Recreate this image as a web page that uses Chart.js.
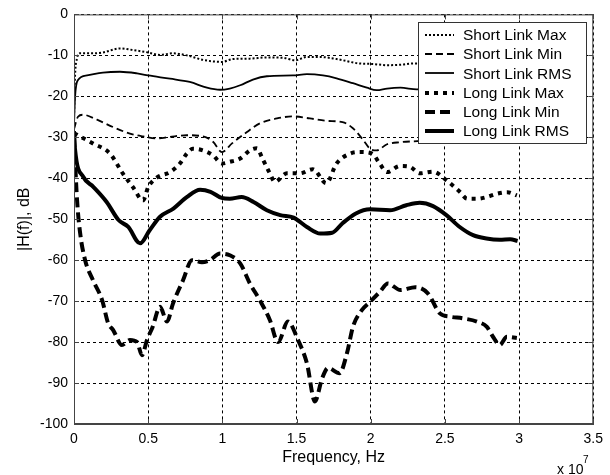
<!DOCTYPE html>
<html><head><meta charset="utf-8">
<script src="https://cdn.jsdelivr.net/npm/chart.js@4"></script>
<style>html,body{margin:0;padding:0;background:#fff;}#wrap{width:610px;height:475px;}</style>
</head><body><div id="wrap"><canvas id="c" width="610" height="475"></canvas></div>
<script>
// Frequencies are in units of 1e7 Hz (axis exponent "x 10^7")
const seriesNames = ["Short Link Max","Short Link Min","Short Link RMS","Long Link Max","Long Link Min","Long Link RMS"];
const xTickValues = [0,0.5,1,1.5,2,2.5,3,3.5];
const yTickValues = [0,-10,-20,-30,-40,-50,-60,-70,-80,-90,-100];

const shortMaxF  = [0,0.007,0.02,0.04,0.128,0.195,0.31,0.398,0.5,0.58,0.667,0.76,0.87,0.997,1.07,1.186,1.30,1.41,1.49,1.57,1.66,1.77,1.93,2.01,2.11,2.2,2.28,2.5,2.75,3.0];
const shortMaxDb = [-25,-15,-10.8,-9.5,-9.5,-9.3,-8.3,-8.7,-9.3,-9.9,-9.5,-10,-11.1,-11.6,-10.9,-10.8,-10.5,-10.6,-11.2,-10.4,-10.4,-10.9,-12,-12.1,-12.4,-12.3,-12,-12.2,-12.5,-12.3];

const shortMinF  = [0,0.027,0.06,0.155,0.263,0.377,0.465,0.56,0.647,0.76,0.87,0.937,0.997,1.065,1.166,1.253,1.368,1.476,1.59,1.705,1.81,1.88,1.95,1.995,2.04,2.11,2.2,2.28,2.45,2.7,3.0];
const shortMinDb = [-28,-25,-24.5,-25.7,-27.5,-29.1,-29.8,-30.3,-29.9,-29.5,-29.8,-31.1,-33.6,-31.5,-28.7,-26.6,-25.4,-24.9,-25.4,-26,-26.3,-27.8,-30.7,-32.8,-33.2,-31.7,-31.2,-31,-30.8,-30.8,-30.8];

const shortRmsF  = [0,0.007,0.027,0.088,0.195,0.31,0.425,0.5,0.647,0.78,0.896,0.984,1.05,1.12,1.206,1.30,1.476,1.57,1.678,1.77,1.88,1.974,2.04,2.11,2.2,2.31,2.5,2.75,3.0];
const shortRmsDb = [-27,-20.2,-16,-14.9,-14.2,-14,-14.4,-14.9,-15.7,-16.5,-17.9,-18.4,-18.1,-17.3,-15.9,-15.1,-14.9,-14.6,-14.9,-15.6,-16.8,-17.9,-18.5,-18.1,-17.9,-18.3,-18,-18.2,-18];

const longMaxF  = [0,0.128,0.243,0.33,0.398,0.465,0.5,0.56,0.647,0.714,0.76,0.80,0.87,0.937,0.997,1.05,1.12,1.186,1.233,1.27,1.32,1.354,1.435,1.523,1.61,1.70,1.77,1.86,1.93,2.01,2.06,2.11,2.197,2.264,2.33,2.42,2.51,2.6,2.65,2.72,2.78,2.85,2.92,2.985];
const longMaxDb = [-29,-31.5,-34,-38.9,-42.2,-45.4,-42.2,-39.8,-38.5,-36.4,-34,-32.8,-33.2,-34.4,-36.4,-36,-35.2,-33.2,-32.7,-35.2,-38.8,-40.9,-38.8,-38.8,-37.8,-41.2,-36.4,-34,-33.6,-34,-36.4,-38.5,-37,-37.2,-38.8,-38.4,-40.5,-43.3,-45,-45,-44.6,-43.8,-43.4,-44.2];

const longMinF  = [0,0.02,0.04,0.075,0.128,0.19,0.23,0.263,0.323,0.377,0.425,0.458,0.492,0.53,0.58,0.627,0.667,0.735,0.795,0.862,0.916,0.984,1.05,1.12,1.186,1.253,1.32,1.375,1.442,1.51,1.57,1.624,1.671,1.712,1.79,1.84,1.88,1.94,1.995,2.06,2.116,2.2,2.3,2.385,2.466,2.534,2.62,2.716,2.783,2.824,2.87,2.918,2.985];
const longMinDb = [-30,-45,-53,-60,-64.9,-69.8,-75.4,-77,-80.7,-79.5,-80,-83.2,-79.5,-76.3,-71.4,-75,-70.6,-64.9,-60,-60.5,-60,-58.4,-58.8,-60.8,-65.7,-69.8,-74.6,-80,-75,-79.5,-85.2,-94.5,-89,-86.3,-87.6,-82.7,-76.3,-72.2,-70.2,-67.8,-65.7,-67.3,-66.6,-68.1,-73,-73.8,-74.2,-75,-76.3,-78.7,-80.7,-78.7,-79];

const longRmsF  = [0,0.007,0.063,0.13,0.22,0.30,0.366,0.445,0.51,0.58,0.67,0.76,0.85,0.92,0.995,1.05,1.13,1.21,1.30,1.39,1.48,1.57,1.66,1.74,1.81,1.9,1.995,2.13,2.24,2.33,2.42,2.51,2.6,2.69,2.78,2.87,2.94,2.99];
const longRmsDb = [-28.5,-33,-39.7,-42.1,-45.8,-50.2,-51.9,-55.9,-52.7,-49.4,-47.4,-44.6,-42.8,-43.3,-44.8,-45,-44.6,-45.8,-47.8,-49,-49.6,-51.9,-53.5,-53.3,-51,-48.6,-47.6,-47.8,-46.6,-46,-46.8,-49,-51.9,-53.9,-54.7,-55,-54.9,-55.3];

const pts = (f, d) => f.map((v, i) => ({x: v, y: d[i]}));
const styles = [
  {w:2, dash:[2,2]},
  {w:1.8, dash:[7,4]},
  {w:1.8, dash:[]},
  {w:4, dash:[4,5]},
  {w:4, dash:[10,5]},
  {w:4, dash:[]}
];
const allData = [[shortMaxF,shortMaxDb],[shortMinF,shortMinDb],[shortRmsF,shortRmsDb],[longMaxF,longMaxDb],[longMinF,longMinDb],[longRmsF,longRmsDb]];
const datasets = allData.map((p, i) => ({
  label: seriesNames[i],
  data: pts(p[0], p[1]),
  borderColor: '#000',
  backgroundColor: '#000',
  borderWidth: styles[i].w,
  borderDash: styles[i].dash,
  pointRadius: 0,
  fill: false,
  cubicInterpolationMode: 'monotone',
  borderCapStyle: 'butt',
  borderJoinStyle: 'round'
}));

const FONT = "'Liberation Sans', Arial, sans-serif";
Chart.defaults.font.family = FONT;
Chart.defaults.color = '#000';

const framePlugin = {
  id: 'frame',
  afterDatasetsDraw(chart) {
    const {ctx, chartArea: a, scales} = chart;
    ctx.save();
    ctx.strokeStyle = '#444';
    ctx.lineWidth = 1;
    ctx.setLineDash([]);
    ctx.strokeRect(a.left + 0.5, a.top + 0.5, a.right - a.left - 1, a.bottom - a.top - 1);
    ctx.beginPath();
    xTickValues.forEach(v => {
      const x = Math.round(scales.x.getPixelForValue(v)) + 0.5;
      ctx.moveTo(x, a.bottom); ctx.lineTo(x, a.bottom - 5);
      ctx.moveTo(x, a.top); ctx.lineTo(x, a.top + 5);
    });
    yTickValues.forEach(v => {
      const y = Math.round(scales.y.getPixelForValue(v)) + 0.5;
      ctx.moveTo(a.left, y); ctx.lineTo(a.left + 5, y);
      ctx.moveTo(a.right, y); ctx.lineTo(a.right - 5, y);
    });
    ctx.stroke();

    // legend
    const lx = 418, ly = 22, lw = 168, lh = 121;
    ctx.fillStyle = '#fff';
    ctx.fillRect(lx, ly, lw, lh);
    ctx.strokeStyle = '#333';
    ctx.strokeRect(lx + 0.5, ly + 0.5, lw, lh);
    ctx.font = "15.5px " + FONT;
    ctx.textBaseline = 'middle';
    ctx.textAlign = 'left';
    chart.data.datasets.forEach((ds, i) => {
      const y = 35 + i * 19.2;
      ctx.save();
      ctx.strokeStyle = '#000';
      ctx.lineWidth = ds.borderWidth;
      ctx.setLineDash(ds.borderDash);
      ctx.lineCap = 'butt';
      ctx.beginPath();
      ctx.moveTo(425, Math.round(y));
      ctx.lineTo(454, Math.round(y));
      ctx.stroke();
      ctx.restore();
      ctx.fillStyle = '#000';
      ctx.fillText(ds.label, 463, y + 1);
    });

    // axis exponent
    ctx.fillStyle = '#000';
    ctx.textBaseline = 'alphabetic';
    ctx.font = "14px " + FONT;
    ctx.fillText('x 10', 557, 474);
    ctx.font = "10px " + FONT;
    ctx.fillText('7', 583, 463);
    ctx.restore();
  }
};

new Chart(document.getElementById('c'), {
  type: 'line',
  data: {datasets},
  plugins: [framePlugin],
  options: {
    responsive: false,
    animation: false,
    events: [],
    layout: {padding: {top: 14, right: 16, left: 0, bottom: 0}},
    plugins: {legend: {display: false}, tooltip: {enabled: false}},
    scales: {
      x: {
        type: 'linear', min: 0, max: 3.5,
        afterFit: s => { s.height = 51; },
        afterBuildTicks: s => { s.ticks = xTickValues.map(v => ({value: v})); },
        ticks: {font: {size: 14}, color: '#000', padding: 7, maxRotation: 0, autoSkip: false,
                callback: v => String(v)},
        grid: {color: '#000', lineWidth: 1, drawTicks: false},
        border: {display: true, color: '#444', width: 1, dash: [3, 3]},
        title: {display: true, text: 'Frequency, Hz', font: {size: 16}, color: '#000', padding: {top: 0, bottom: 8}}
      },
      y: {
        type: 'linear', min: -100, max: 0,
        afterFit: s => { s.width = 74; },
        afterBuildTicks: s => { s.ticks = yTickValues.slice().reverse().map(v => ({value: v})); },
        ticks: {font: {size: 14}, color: '#000', padding: 6, autoSkip: false, callback: v => String(v)},
        grid: {color: '#000', lineWidth: 1, drawTicks: false},
        border: {display: true, color: '#444', width: 1, dash: [3, 3]},
        title: {display: true, text: '|H(f)|, dB', font: {size: 16}, color: '#000', padding: {top: 15, bottom: 0}}
      }
    }
  }
});
</script>
</body></html>
